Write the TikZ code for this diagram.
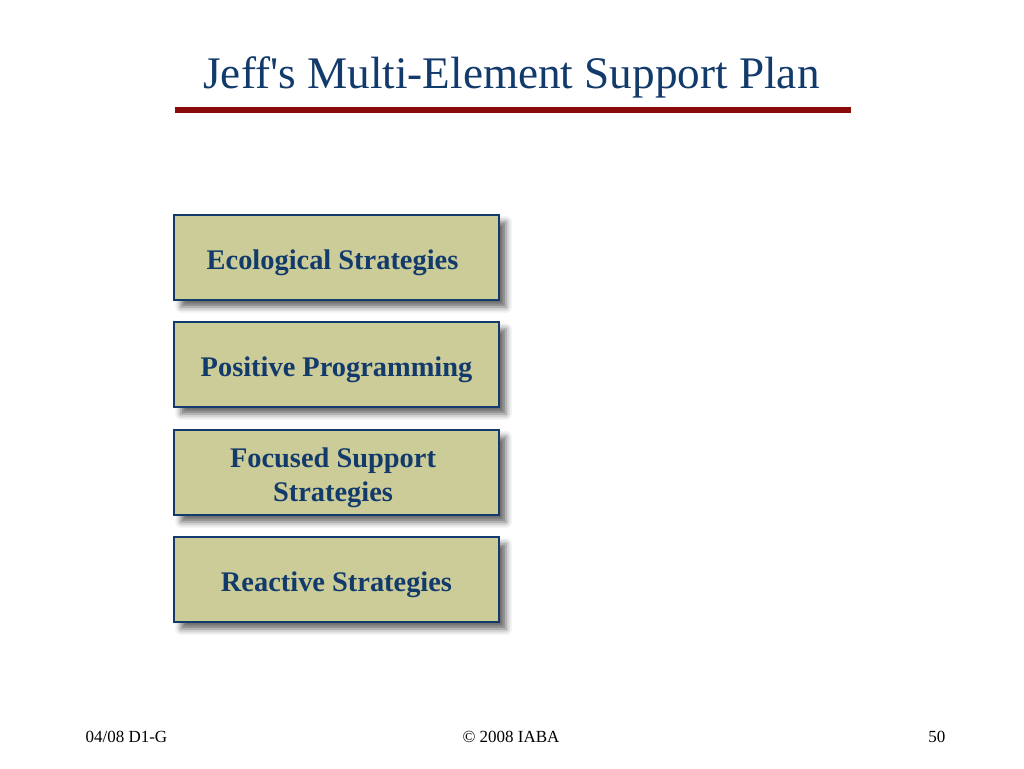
\documentclass[tikz,border=0pt]{standalone}
\usepackage{fontspec}
\setmainfont{Liberation Serif}
\usetikzlibrary{shadows.blur}
\definecolor{navy}{HTML}{123A6B}
\definecolor{khaki}{HTML}{CCCC99}
\definecolor{rule}{HTML}{8B0A0A}
\newcommand{\lowertext}[1]{\raisebox{-5pt}[\height][\depth]{#1}}
\tikzset{
  card/.style={draw=navy, line width=1.2pt, fill=khaki, minimum width=325pt, minimum height=85pt,
    inner sep=0pt, align=center, text=navy, font=\bfseries\fontsize{28.4}{34}\selectfont,
    blur shadow={shadow xshift=7pt, shadow yshift=-7pt, shadow blur radius=6pt, shadow opacity=60}},
  foot/.style={font=\fontsize{17}{20}\selectfont, text=black, anchor=base}
}
\begin{document}
\begin{tikzpicture}[x=1pt,y=-1pt]
\useasboundingbox (0,0) rectangle (1024,768);
\node[anchor=base, text=navy, font=\fontsize{45.2}{54}\selectfont] (title) at (511.5,88) {Jeff\textquotesingle s Multi-Element Support Plan};
\coordinate (rl) at (175,110);
\coordinate (rr) at (851,110);
\draw[rule, line width=6pt] (rl) -- (rr);
\node[card] (eco) at (336.5,257.5) {\lowertext{Ecological Strategies\hspace{8pt}}};
\node[card] (pos) at (336.5,364.5) {\lowertext{Positive Programming}};
\node[card] (foc) at (336.5,472.5) {\lowertext{\shortstack{Focused Support\\[5pt]Strategies}\hspace{7pt}}};
\node[card] (rea) at (336.5,579.5) {\lowertext{Reactive Strategies}};
\node[foot, anchor=base west] (f1) at (82,742) {04/08 D1-G};
\node[foot] (f2) at (511,742) {© 2008 IABA};
\node[foot, anchor=base east] (f3) at (949,742) {50};
\end{tikzpicture}
\end{document}
